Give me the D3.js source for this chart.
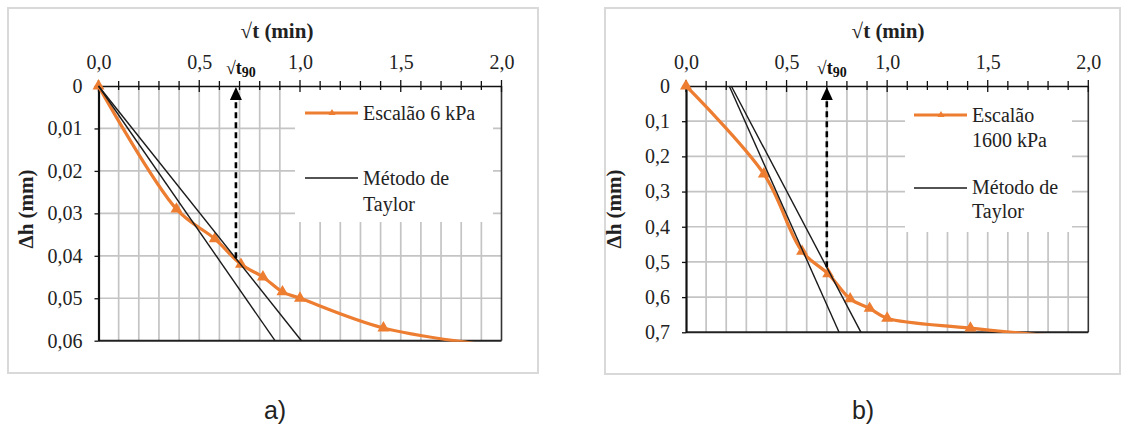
<!DOCTYPE html>
<html>
<head>
<meta charset="utf-8">
<script src="https://cdn.jsdelivr.net/npm/d3@7"></script>
<style>
  html, body { margin: 0; padding: 0; background: #fff; }
  svg { display: block; }
</style>
</head>
<body>
<svg id="fig" width="1127" height="426"></svg>
<script>
// √t (min) of each reading, shared by both load steps
const sqrtT = [0, 0.387, 0.577, 0.707, 0.816, 0.913, 1.0, 1.414, 2.0];
// Settlement Δh (mm) for the 6 kPa step
const dhA = [0, 0.029, 0.036, 0.042, 0.045, 0.0485, 0.050, 0.057, 0.0615];
// Settlement Δh (mm) for the 1600 kPa step
const dhB = [0, 0.25, 0.47, 0.534, 0.605, 0.632, 0.66, 0.688, 0.72];

// Taylor construction lines: [x0, y0, x1, y1]
const taylorA = [[0, 0, 0.876, 0.06], [0, 0, 1.007, 0.06]];
const taylorB = [[0.215, 0, 0.761, 0.7], [0.225, 0, 0.870, 0.7]];
// √t90 read-off: [√t90, Δh at intersection]
const t90A = [0.682, 0.0406];
const t90B = [0.70, 0.515];

const xTicks = [0, 0.5, 1, 1.5, 2];
const xTickLabels = ["0,0", "0,5", "1,0", "1,5", "2,0"];
const yTicksA = [0, 0.01, 0.02, 0.03, 0.04, 0.05, 0.06];
const yLabelsA = ["0", "0,01", "0,02", "0,03", "0,04", "0,05", "0,06"];
const yTicksB = [0, 0.1, 0.2, 0.3, 0.4, 0.5, 0.6, 0.7];
const yLabelsB = ["0", "0,1", "0,2", "0,3", "0,4", "0,5", "0,6", "0,7"];

const ORANGE = "#ED7D31";
const SERIF = "'Times New Roman', Times, 'Liberation Serif', Tinos, 'Nimbus Roman', 'DejaVu Serif', 'Noto Serif', serif";
const SANS = "'Liberation Sans', Arial, 'DejaVu Sans', sans-serif";
const svg = d3.select("#fig");

function drawPanel(p) {
  const g = svg.append("g");

  // outer frame
  g.append("rect")
    .attr("x", p.frame[0]).attr("y", p.frame[1])
    .attr("width", p.frame[2] - p.frame[0]).attr("height", p.frame[3] - p.frame[1])
    .attr("fill", "none").attr("stroke", "#d9d9d9").attr("stroke-width", 2);

  const x = d3.scaleLinear().domain([0, 2]).range([p.left, p.right]);
  const y = d3.scaleLinear().domain([0, p.yMax]).range([p.top, p.bottom]);

  // grid
  const minorX = d3.range(1, 20).map(i => i / 10);
  g.append("g").selectAll("line").data(minorX).join("line")
    .attr("x1", d => x(d)).attr("x2", d => x(d))
    .attr("y1", p.top).attr("y2", p.bottom)
    .attr("stroke", "#c4c4c4").attr("stroke-width", 1.7);
  g.append("g").selectAll("line").data(p.yTicks.slice(1, -1)).join("line")
    .attr("x1", p.left).attr("x2", p.right)
    .attr("y1", d => y(d)).attr("y2", d => y(d))
    .attr("stroke", "#c4c4c4").attr("stroke-width", 1.7);

  // legend background covers grid
  g.append("rect")
    .attr("x", p.legend.box[0]).attr("y", p.legend.box[1])
    .attr("width", p.legend.box[2] - p.legend.box[0])
    .attr("height", p.legend.box[3] - p.legend.box[1])
    .attr("fill", "#fff");

  // plot frame: right and bottom edges
  g.append("line").attr("x1", p.right).attr("x2", p.right)
    .attr("y1", p.top).attr("y2", p.bottom)
    .attr("stroke", "#333").attr("stroke-width", 1.6);
  g.append("line").attr("x1", p.left).attr("x2", p.right)
    .attr("y1", p.bottom).attr("y2", p.bottom)
    .attr("stroke", "#222").attr("stroke-width", 2);

  // top axis
  const topAxis = d3.axisTop(x).tickValues(xTicks)
    .tickFormat((d, i) => xTickLabels[i]).tickSize(0).tickPadding(17);
  const ta = g.append("g").attr("transform", `translate(0,${p.top})`).call(topAxis);
  ta.attr("font-family", SERIF).attr("font-size", 20);
  ta.select(".domain").attr("stroke", "#111").attr("stroke-width", 1.6);
  ta.selectAll("text").attr("fill", "#222");
  g.append("g").selectAll("line").data(d3.range(0, 21).map(i => i / 10)).join("line")
    .attr("x1", d => x(d)).attr("x2", d => x(d))
    .attr("y1", (d, i) => p.top - (i % 5 === 0 ? 6 : 5))
    .attr("y2", (d, i) => p.top + (i % 5 === 0 ? 6 : 4))
    .attr("stroke", "#111").attr("stroke-width", 1.3);

  // left axis
  const leftAxis = d3.axisLeft(y).tickValues(p.yTicks)
    .tickFormat((d, i) => p.yLabels[i]).tickSizeInner(4).tickSizeOuter(0).tickPadding(12);
  const la = g.append("g").attr("transform", `translate(${p.left},0)`).call(leftAxis);
  la.attr("font-family", SERIF).attr("font-size", 20);
  la.select(".domain").attr("stroke", "#111").attr("stroke-width", 2.2);
  la.selectAll(".tick line").attr("stroke", "#111").attr("stroke-width", 1.3);
  la.selectAll("text").attr("fill", "#222");

  // axis titles
  g.append("text").attr("x", p.xTitle[0]).attr("y", p.xTitle[1])
    .attr("text-anchor", "middle")
    .attr("font-family", SERIF).attr("font-weight", "bold").attr("font-size", 21)
    .attr("fill", "#222").text("√t (min)");
  g.append("text")
    .attr("transform", `translate(${p.yTitle[0]},${p.yTitle[1]}) rotate(-90)`)
    .attr("text-anchor", "middle")
    .attr("font-family", SERIF).attr("font-weight", "bold").attr("font-size", 21)
    .attr("fill", "#222").text("Δh (mm)");

  // clip region for the series
  const clipId = "clip" + p.id;
  svg.append("defs").append("clipPath").attr("id", clipId)
    .append("rect").attr("x", p.left).attr("y", p.top - 10)
    .attr("width", p.right - p.left).attr("height", p.bottom - p.top + 11);

  const pts = sqrtT.map((t, i) => [t, p.dh[i]]);
  const line = d3.line().x(d => x(d[0])).y(d => y(d[1])).curve(d3.curveCatmullRom.alpha(0.5));
  g.append("path").attr("d", line(pts)).attr("clip-path", `url(#${clipId})`)
    .attr("fill", "none").attr("stroke", ORANGE).attr("stroke-width", 3.2)
    .attr("stroke-linejoin", "round");

  const tri = d3.symbol().type(d3.symbolTriangle).size(62);
  g.append("g").selectAll("path").data(pts.filter(d => d[0] <= 2 && d[1] <= p.yMax)).join("path")
    .attr("transform", d => `translate(${x(d[0])},${y(d[1])})`)
    .attr("d", tri).attr("fill", ORANGE);

  // Taylor lines
  g.append("g").selectAll("line").data(p.taylor).join("line")
    .attr("x1", d => x(d[0])).attr("y1", d => y(d[1]))
    .attr("x2", d => x(d[2])).attr("y2", d => y(d[3]))
    .attr("stroke", "#1a1a1a").attr("stroke-width", 1.4);

  // √t90 arrow
  const ax = x(p.t90[0]);
  g.append("line").attr("x1", ax).attr("x2", ax)
    .attr("y1", y(p.t90[1])).attr("y2", p.top + 12)
    .attr("stroke", "#000").attr("stroke-width", 2.6).attr("stroke-dasharray", "6,4");
  g.append("path")
    .attr("d", `M${ax},${p.top + 1} L${ax - 6},${p.top + 14} L${ax + 6},${p.top + 14} Z`)
    .attr("fill", "#000");
  const lbl = g.append("text").attr("x", ax + 5).attr("y", p.top - 12)
    .attr("text-anchor", "middle")
    .attr("font-family", SERIF).attr("font-weight", "bold").attr("font-size", 18)
    .attr("fill", "#111");
  lbl.append("tspan").text("√t");
  lbl.append("tspan").attr("font-size", 14).attr("dy", 3).text("90");

  // legend
  const L = p.legend;
  g.append("line").attr("x1", L.x0).attr("x2", L.x0 + 53)
    .attr("y1", L.y1).attr("y2", L.y1)
    .attr("stroke", ORANGE).attr("stroke-width", 3.2);
  g.append("path").attr("transform", `translate(${L.x0 + 27},${L.y1})`)
    .attr("d", d3.symbol().type(d3.symbolTriangle).size(22)).attr("fill", ORANGE);
  g.append("line").attr("x1", L.x0).attr("x2", L.x0 + 53)
    .attr("y1", L.y2).attr("y2", L.y2)
    .attr("stroke", "#1a1a1a").attr("stroke-width", 1.4);
  L.texts.forEach(t => {
    g.append("text").attr("x", L.tx).attr("y", t[1])
      .attr("font-family", SERIF).attr("font-size", 20)
      .attr("fill", "#222").text(t[0]);
  });

  // caption
  svg.append("text").attr("x", p.caption[0]).attr("y", p.caption[1])
    .attr("text-anchor", "middle")
    .attr("font-family", SANS).attr("font-size", 25)
    .attr("fill", "#222").text(p.caption[2]);
}

drawPanel({
  id: "a", frame: [8, 8, 538, 373],
  left: 98.5, right: 501.5, top: 86, bottom: 340.7, yMax: 0.06,
  yTicks: yTicksA, yLabels: yLabelsA, dh: dhA, taylor: taylorA, t90: t90A,
  xTitle: [277, 38], yTitle: [33, 209],
  legend: { box: [295, 88, 493, 222], x0: 305, tx: 363, y1: 113, y2: 178,
    texts: [["Escalão 6 kPa", 120], ["Método de", 185], ["Taylor", 211]] },
  caption: [275, 419, "a)"]
});

drawPanel({
  id: "b", frame: [605, 8, 1120, 374],
  left: 686, right: 1088.3, top: 86, bottom: 332.3, yMax: 0.7,
  yTicks: yTicksB, yLabels: yLabelsB, dh: dhB, taylor: taylorB, t90: t90B,
  xTitle: [888, 38], yTitle: [621, 209],
  legend: { box: [905, 88, 1072, 232], x0: 914, tx: 972, y1: 115, y2: 188,
    texts: [["Escalão", 122], ["1600 kPa", 147], ["Método de", 194], ["Taylor", 218]] },
  caption: [863, 419, "b)"]
});
</script>
</body>
</html>
